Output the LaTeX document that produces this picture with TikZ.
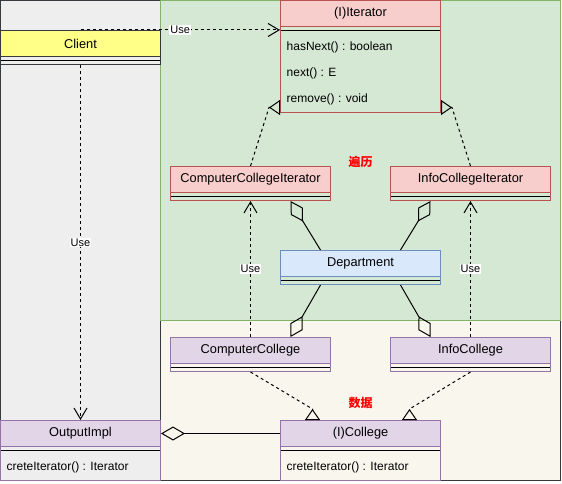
\documentclass[tikz,border=0pt]{standalone}
\usepackage{fontspec}
\setmainfont{Liberation Sans}
\newfontfamily\cjkfont{Noto Sans CJK SC}
\usetikzlibrary{arrows.meta}
\definecolor{darkline}{HTML}{36393D}
\definecolor{grayfill}{HTML}{EEEEEE}
\definecolor{greenfill}{HTML}{D5E8D4}
\definecolor{greenline}{HTML}{82B366}
\definecolor{beigefill}{HTML}{F9F7ED}
\definecolor{yellowfill}{HTML}{FFFF88}
\definecolor{pinkfill}{HTML}{F8CECC}
\definecolor{pinkline}{HTML}{B85450}
\definecolor{bluefill}{HTML}{DAE8FC}
\definecolor{blueline}{HTML}{6C8EBF}
\definecolor{purplefill}{HTML}{E1D5E7}
\definecolor{purpleline}{HTML}{9673A6}

\begin{document}
\begin{tikzpicture}[
  head_box/.style={rectangle, minimum width=160pt, minimum height=26pt, inner sep=0pt, line width=1pt, font=\fontsize{12.8}{15}\selectfont},
  body_box/.style={rectangle, minimum width=160pt, inner sep=0pt, line width=1pt, path picture={\draw[black, line width=1pt] ([yshift=-4pt]path picture bounding box.north west) -- ([yshift=-4pt]path picture bounding box.north east);}},
  member/.style={inner sep=0pt, font=\fontsize{12}{14}\selectfont},
  yellow_cls/.style={fill=yellowfill, draw=darkline},
  pink_cls/.style={fill=pinkfill, draw=pinkline},
  blue_cls/.style={fill=bluefill, draw=blueline},
  purple_cls/.style={fill=purplefill, draw=purpleline},
  use_line/.style={line width=1pt, dash pattern=on 3pt off 3pt, -{Straight Barb[length=11pt, width=13pt, line width=1pt]}},
  impl_line/.style={line width=1pt, dash pattern=on 3pt off 3pt, -{Triangle[open, reversed, length=11pt, width=15pt, line width=1pt]}},
  agg_line/.style={line width=1pt, -{Diamond[open, length=24pt, width=14pt, line width=1pt]}},
  use_label/.style={fill=white, inner sep=1pt, font=\fontsize{11}{13}\selectfont},
  zone_label/.style={text=red, font=\cjkfont\bfseries\fontsize{12}{14}\selectfont},
]
\useasboundingbox (-0.5pt,0.5pt) rectangle (561.5pt,-483.5pt);
\draw[fill=grayfill, draw=darkline, line width=1pt] (0pt,0pt) rectangle (160pt,-480pt);
\draw[fill=beigefill, draw=darkline, line width=1pt] (160pt,-320pt) rectangle (560pt,-480pt);
\draw[fill=greenfill, draw=greenline, line width=1pt] (160pt,0pt) rectangle (560pt,-320pt);

\draw (80pt,-43pt) node (client) [head_box, yellow_cls] {Client};
\draw (80pt,-60pt) node (client_body) [body_box, draw=darkline, minimum height=8pt] {};

\draw (360pt,-13pt) node (iter) [head_box, pink_cls] {(I)Iterator};
\draw (360pt,-69pt) node (iter_body) [body_box, draw=pinkline, minimum height=86pt] {};
\draw (286pt,-47pt) node (iter_m1) [member, right] {hasNext() : boolean};
\draw (286pt,-73pt) node (iter_m2) [member, right] {next() : E};
\draw (286pt,-99pt) node (iter_m3) [member, right] {remove() : void};

\draw (250pt,-179pt) node (cci) [head_box, pink_cls] {ComputerCollegeIterator};
\draw (250pt,-196pt) node (cci_body) [body_box, draw=pinkline, minimum height=8pt] {};
\draw (470pt,-179pt) node (ici) [head_box, pink_cls] {InfoCollegeIterator};
\draw (470pt,-196pt) node (ici_body) [body_box, draw=pinkline, minimum height=8pt] {};

\draw (360pt,-263pt) node (dept) [head_box, blue_cls] {Department};
\draw (360pt,-280pt) node (dept_body) [body_box, draw=blueline, minimum height=8pt] {};

\draw (250pt,-350pt) node (cc) [head_box, purple_cls] {ComputerCollege};
\draw (250pt,-367pt) node (cc_body) [body_box, draw=purpleline, minimum height=8pt] {};
\draw (470pt,-350pt) node (ic) [head_box, purple_cls] {InfoCollege};
\draw (470pt,-367pt) node (ic_body) [body_box, draw=purpleline, minimum height=8pt] {};

\draw (80pt,-433pt) node (outimpl) [head_box, purple_cls] {OutputImpl};
\draw (80pt,-463pt) node (outimpl_body) [body_box, draw=purpleline, minimum height=34pt] {};
\draw (6pt,-467pt) node (outimpl_m1) [member, right] {creteIterator() : Iterator};

\draw (360pt,-433pt) node (college) [head_box, purple_cls] {(I)College};
\draw (360pt,-463pt) node (college_body) [body_box, draw=purpleline, minimum height=34pt] {};
\draw (286pt,-467pt) node (college_m1) [member, right] {creteIterator() : Iterator};

\draw (360pt,-161pt) node (walk_lbl) [zone_label] {遍历};
\draw (360pt,-402pt) node (data_lbl) [zone_label] {数据};

\draw[use_line] (client.north) -- (client.north -| iter_body.west) node [use_label, midway] {Use};
\draw[use_line] (client_body.south) -- (outimpl.north) node [use_label, midway] {Use};
\draw[use_line] (cc.north) -- (cci_body.south) node [use_label, midway] {Use};
\draw[use_line] (ic.north) -- (ici_body.south) node [use_label, midway] {Use};

\draw[impl_line] (cci.north) -- ([xshift=-11pt, yshift=5.5pt]iter_body.south west) -- ([yshift=5.5pt]iter_body.south west);
\draw[impl_line] (ici.north) -- ([xshift=11pt, yshift=5.5pt]iter_body.south east) -- ([yshift=5.5pt]iter_body.south east);
\draw[impl_line] (cc_body.south) -- ([xshift=-48pt, yshift=11pt]college.north) -- ([xshift=-48pt]college.north);
\draw[impl_line] (ic_body.south) -- ([xshift=49pt, yshift=11pt]college.north) -- ([xshift=49pt]college.north);

\draw[agg_line] ([xshift=-40pt]dept.north) -- ([xshift=40pt]cci_body.south);
\draw[agg_line] ([xshift=40pt]dept.north) -- ([xshift=-40pt]ici_body.south);
\draw[agg_line] ([xshift=-40pt]dept_body.south) -- ([xshift=40pt]cc.north);
\draw[agg_line] ([xshift=40pt]dept_body.south) -- ([xshift=-40pt]ic.north);
\draw[agg_line] (college.west) -- (outimpl.east);
\end{tikzpicture}
\end{document}
